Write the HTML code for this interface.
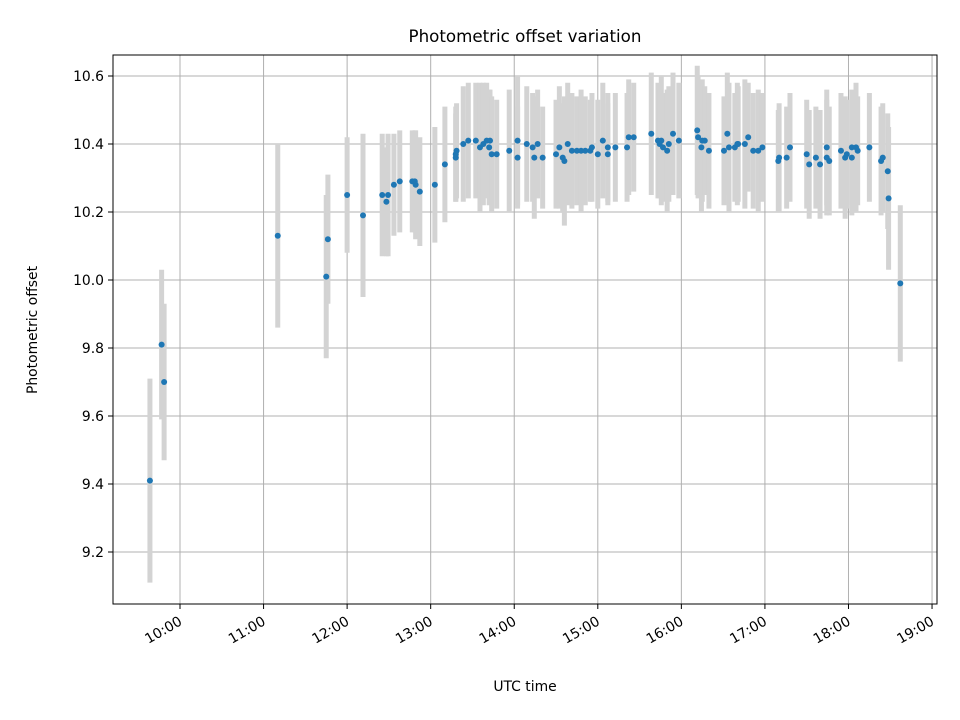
<!DOCTYPE html>
<html><head><meta charset="utf-8"><style>
body{margin:0;background:#fff}
svg{display:block;font-family:"DejaVu Sans","Liberation Sans",sans-serif}
</style></head><body>
<svg id="chart" width="960" height="720" xmlns="http://www.w3.org/2000/svg">
<rect width="960" height="720" fill="#fff"/>
<g id="grid"></g>
<g id="errs"></g>
<g id="pts"></g>
<rect x="113" y="55" width="824" height="549" fill="none" stroke="#000" stroke-width="1"/>
<g id="ticks"></g>
<text x="525" y="42" text-anchor="middle" font-size="16.7">Photometric offset variation</text>
<text x="525" y="691" text-anchor="middle" font-size="13.9">UTC time</text>
<text transform="translate(37,330) rotate(-90)" text-anchor="middle" font-size="13.9">Photometric offset</text>
</svg>
<script>
const times=[9.64,9.78,9.81,11.17,11.75,11.77,12.00,12.19,12.42,12.47,12.49,12.56,12.63,12.78,12.81,12.82,12.87,13.05,13.17,13.30,13.30,13.31,13.39,13.45,13.54,13.59,13.63,13.67,13.71,13.70,13.73,13.79,13.94,14.04,14.04,14.15,14.22,14.24,14.28,14.34,14.50,14.54,14.58,14.60,14.64,14.69,14.75,14.80,14.85,14.91,14.93,15.00,15.06,15.12,15.12,15.21,15.35,15.37,15.43,15.64,15.72,15.76,15.74,15.78,15.83,15.85,15.90,15.97,16.19,16.20,16.25,16.24,16.28,16.33,16.51,16.55,16.57,16.64,16.67,16.68,16.76,16.80,16.86,16.92,16.97,17.16,17.17,17.26,17.30,17.50,17.53,17.61,17.66,17.74,17.74,17.77,17.91,17.96,17.98,18.04,18.04,18.09,18.11,18.25,18.39,18.41,18.47,18.48,18.62];
const offsets=[9.41,9.81,9.70,10.13,10.01,10.12,10.25,10.19,10.25,10.23,10.25,10.28,10.29,10.29,10.29,10.28,10.26,10.28,10.34,10.36,10.37,10.38,10.40,10.41,10.41,10.39,10.40,10.41,10.41,10.39,10.37,10.37,10.38,10.41,10.36,10.40,10.39,10.36,10.40,10.36,10.37,10.39,10.36,10.35,10.40,10.38,10.38,10.38,10.38,10.38,10.39,10.37,10.41,10.39,10.37,10.39,10.39,10.42,10.42,10.43,10.41,10.41,10.40,10.39,10.38,10.40,10.43,10.41,10.44,10.42,10.41,10.39,10.41,10.38,10.38,10.43,10.39,10.39,10.40,10.40,10.40,10.42,10.38,10.38,10.39,10.35,10.36,10.36,10.39,10.37,10.34,10.36,10.34,10.39,10.36,10.35,10.38,10.36,10.37,10.36,10.39,10.39,10.38,10.39,10.35,10.36,10.32,10.24,9.99];
const errors=[0.30,0.22,0.23,0.27,0.24,0.19,0.17,0.24,0.18,0.16,0.18,0.15,0.15,0.15,0.15,0.16,0.16,0.17,0.17,0.13,0.14,0.14,0.17,0.17,0.17,0.19,0.18,0.17,0.15,0.17,0.17,0.16,0.18,0.19,0.15,0.17,0.16,0.18,0.16,0.15,0.16,0.18,0.16,0.19,0.18,0.17,0.16,0.18,0.16,0.15,0.16,0.16,0.17,0.16,0.15,0.16,0.16,0.17,0.16,0.18,0.17,0.19,0.16,0.16,0.18,0.17,0.18,0.17,0.19,0.18,0.18,0.19,0.16,0.17,0.16,0.18,0.19,0.16,0.18,0.17,0.19,0.16,0.17,0.18,0.16,0.15,0.16,0.15,0.16,0.16,0.16,0.15,0.16,0.17,0.17,0.16,0.17,0.18,0.16,0.17,0.17,0.19,0.16,0.16,0.16,0.16,0.17,0.21,0.23];
const yTicks=[9.2,9.4,9.6,9.8,10.0,10.2,10.4,10.6];
const xTickHours=[10,11,12,13,14,15,16,17,18,19];
const NS="http://www.w3.org/2000/svg";
function X(h){return 180+(h-10)*83.56;}
function Y(v){return 76+(10.6-v)*340;}
function mk(tag,attrs,parent){const e=document.createElementNS(NS,tag);for(const k in attrs)e.setAttribute(k,attrs[k]);parent.appendChild(e);return e;}
const grid=document.getElementById('grid'),ticks=document.getElementById('ticks'),errs=document.getElementById('errs'),pts=document.getElementById('pts');
yTicks.forEach(v=>{
  const g=mk('line',{x1:113,x2:937,y1:Y(v),y2:Y(v),stroke:'#b0b0b0','stroke-width':1},grid);
  
  
  const t=mk('line',{x1:108,x2:113,y1:Y(v),y2:Y(v),stroke:'#000'},ticks);
  
  
  const l=mk('text',{x:104,y:Y(v)+5,'text-anchor':'end','font-size':13.9},ticks);
  l.textContent=v.toFixed(1);
  
  
});
xTickHours.forEach(h=>{
  const x=X(h);
  const g=mk('line',{x1:x,x2:x,y1:55,y2:604,stroke:'#b0b0b0','stroke-width':1},grid);
  
  
  const t=mk('line',{x1:x,x2:x,y1:604,y2:609,stroke:'#000'},ticks);
  
  
  const l=mk('text',{transform:`translate(${x+3},${624}) rotate(-30)`,'text-anchor':'end','font-size':13.9},ticks);
  l.textContent=h+':00';
  
  
});
times.forEach((h,i)=>{
  const x=X(h),v=offsets[i],e=errors[i];
  const b=mk('line',{x1:x,x2:x,y1:Y(v+e),y2:Y(v-e),stroke:'#d3d3d3','stroke-width':5},errs);
  
  
});
times.forEach((h,i)=>{
  const c=mk('circle',{cx:X(h),cy:Y(offsets[i]),r:3,fill:'#1f77b4'},pts);
  
  
});
</script>
</body></html>
